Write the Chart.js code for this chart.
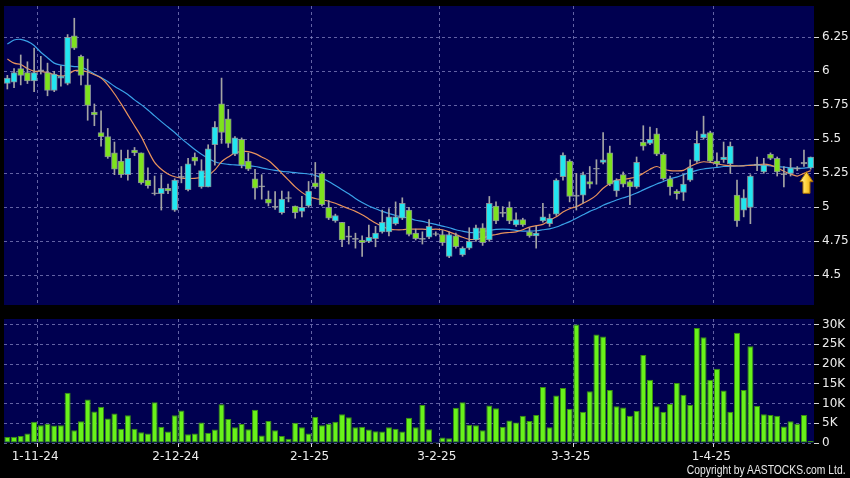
<!DOCTYPE html>
<html>
<head>
<meta charset="utf-8">
<title>Price chart</title>
<script src="https://cdn.jsdelivr.net/npm/chart.js@4.4.1/dist/chart.umd.min.js"></script>
<style>
  html, body { margin: 0; padding: 0; background: #000; }
  #wrap { position: relative; width: 850px; height: 478px; background: #000; overflow: hidden; }
  #price-box { position: absolute; left: 0; top: 0; width: 850px; height: 312px; }
  #vol-box { position: absolute; left: 0; top: 312px; width: 850px; height: 166px; }
  #copy {
    position: absolute; right: 4px; top: 463px;
    font: 12px "Liberation Sans", sans-serif;
    color: #e8e8e8; white-space: nowrap;
    transform: scaleX(0.86); transform-origin: right center;
  }
</style>
</head>
<body>
<div id="wrap">
  <div id="price-box"><canvas id="price-chart"></canvas></div>
  <div id="vol-box"><canvas id="vol-chart"></canvas></div>
  <div id="copy">Copyright by AASTOCKS.com Ltd.</div>
</div>
<script>
/* ── Data (one entry per trading day, 28-10-24 .. 25-4-25) ── */
const OPEN = [
  5.91, 5.92, 6.02, 5.99, 5.93, 6.00, 5.99, 5.86, 5.95, 5.91,
  6.26, 6.11, 5.90, 5.70, 5.55, 5.52, 5.40, 5.34, 5.24, 5.42,
  5.40, 5.20, 5.10, 5.10, 5.14, 4.98, 5.22, 5.13, 5.37, 5.15,
  5.15, 5.46, 5.76, 5.65, 5.39, 5.50, 5.34, 5.21, 5.15, 5.06,
  5.00, 4.96, 5.065, 5.01, 4.97, 5.01, 5.18, 5.25, 5.00, 4.90,
  4.89, 4.78, 4.765, 4.76, 4.75, 4.77, 4.82, 4.82, 4.88, 4.92,
  4.98, 4.81, 4.765, 4.78, 4.80, 4.80, 4.64, 4.79, 4.65, 4.70,
  4.76, 4.85, 4.76, 5.01, 4.955, 5.00, 4.87, 4.91, 4.82, 4.79,
  4.90, 4.88, 4.95, 5.225, 5.34, 5.08, 5.09, 5.19, 5.28, 5.33,
  5.40, 5.12, 5.24, 5.19, 5.15, 5.48, 5.47, 5.54, 5.39, 5.21,
  5.12, 5.11, 5.20, 5.34, 5.51, 5.55, 5.34, 5.35, 5.32, 5.09,
  4.98, 5.00, 5.31, 5.26, 5.39, 5.36, 5.24, 5.25, 5.29, 5.32,
  5.29,
];
const HIGH = [
  5.97, 6.02, 6.12, 6.07, 6.17, 6.11, 6.06, 6.00, 6.04, 6.27,
  6.39, 6.12, 6.09, 5.76, 5.71, 5.58, 5.48, 5.42, 5.42, 5.44,
  5.40, 5.29, 5.23, 5.24, 5.17, 5.21, 5.30, 5.36, 5.40, 5.35,
  5.46, 5.63, 5.95, 5.72, 5.52, 5.51, 5.40, 5.28, 5.24, 5.12,
  5.115, 5.12, 5.115, 5.01, 5.08, 5.19, 5.33, 5.26, 5.05, 4.95,
  4.89, 4.86, 4.81, 4.79, 4.87, 4.86, 4.98, 4.99, 5.04, 5.07,
  5.00, 4.84, 4.82, 4.91, 4.82, 4.83, 4.82, 4.81, 4.71, 4.85,
  4.87, 4.88, 5.08, 5.04, 5.005, 5.04, 4.96, 4.92, 4.85, 4.86,
  5.03, 4.95, 5.21, 5.40, 5.35, 5.25, 5.26, 5.30, 5.35, 5.55,
  5.45, 5.21, 5.26, 5.20, 5.37, 5.60, 5.59, 5.58, 5.40, 5.23,
  5.13, 5.24, 5.35, 5.56, 5.67, 5.56, 5.40, 5.48, 5.48, 5.20,
  5.13, 5.24, 5.37, 5.36, 5.40, 5.37, 5.30, 5.36, 5.30, 5.42,
  5.37,
];
const LOW = [
  5.87, 5.88, 5.90, 5.91, 5.85, 5.98, 5.82, 5.85, 5.89, 5.90,
  6.16, 5.90, 5.64, 5.60, 5.45, 5.36, 5.24, 5.22, 5.20, 5.38,
  5.17, 5.14, 5.09, 4.98, 5.10, 4.97, 5.18, 5.12, 5.31, 5.14,
  5.15, 5.31, 5.47, 5.44, 5.38, 5.29, 5.27, 5.06, 5.06, 5.01,
  4.985, 4.95, 5.04, 4.92, 4.93, 5.00, 5.14, 5.01, 4.91, 4.89,
  4.71, 4.73, 4.70, 4.64, 4.74, 4.71, 4.81, 4.79, 4.87, 4.91,
  4.79, 4.76, 4.73, 4.77, 4.79, 4.72, 4.63, 4.70, 4.64, 4.69,
  4.75, 4.72, 4.75, 4.88, 4.93, 4.88, 4.86, 4.86, 4.78, 4.70,
  4.89, 4.86, 4.94, 5.20, 5.04, 4.98, 5.03, 5.14, 5.17, 5.32,
  5.16, 5.08, 5.15, 5.02, 5.14, 5.42, 5.46, 5.38, 5.20, 5.09,
  5.06, 5.05, 5.19, 5.33, 5.50, 5.33, 5.30, 5.33, 5.25, 4.86,
  4.93, 4.88, 5.27, 5.25, 5.35, 5.23, 5.15, 5.23, 5.27, 5.30,
  5.28,
];
const CLOSE = [
  5.95, 5.99, 5.97, 5.93, 5.99, 6.01, 5.86, 5.98, 5.965, 6.25,
  6.17, 5.97, 5.75, 5.68, 5.52, 5.37, 5.28, 5.24, 5.36, 5.40,
  5.18, 5.16, 5.10, 5.14, 5.12, 5.20, 5.22, 5.32, 5.34, 5.27,
  5.43, 5.59, 5.55, 5.47, 5.51, 5.31, 5.28, 5.14, 5.15, 5.03,
  5.00, 5.06, 5.065, 4.96, 5.00, 5.12, 5.15, 5.02, 4.92, 4.94,
  4.76, 4.79, 4.765, 4.74, 4.78, 4.81, 4.89, 4.93, 4.93, 5.03,
  4.80, 4.77, 4.765, 4.86, 4.805, 4.74, 4.80, 4.71, 4.70, 4.75,
  4.85, 4.74, 5.03, 4.90, 4.955, 4.90, 4.91, 4.87, 4.79, 4.81,
  4.93, 4.92, 5.20, 5.385, 5.08, 5.09, 5.24, 5.17, 5.285, 5.35,
  5.17, 5.20, 5.17, 5.15, 5.33, 5.45, 5.50, 5.39, 5.21, 5.15,
  5.10, 5.17, 5.29, 5.47, 5.54, 5.34, 5.32, 5.37, 5.45, 4.90,
  5.07, 5.23, 5.31, 5.31, 5.36, 5.26, 5.24, 5.29, 5.28, 5.33,
  5.37,
];
const MA_SHORT = [
  6.09, 6.06, 6.05, 6.02, 6.00, 6.00, 5.99, 5.975, 5.965, 5.975,
  6.005, 6.005, 5.995, 5.975, 5.95, 5.90, 5.835, 5.76, 5.68, 5.60,
  5.52, 5.42, 5.33, 5.28, 5.245, 5.225, 5.215, 5.212, 5.213, 5.22,
  5.235, 5.275, 5.335, 5.37, 5.40, 5.41, 5.41, 5.395, 5.37, 5.345,
  5.30, 5.25, 5.20, 5.15, 5.11, 5.08, 5.065, 5.055, 5.045, 5.03,
  5.01, 4.99, 4.97, 4.945, 4.915, 4.885, 4.86, 4.84, 4.835, 4.835,
  4.84, 4.84, 4.84, 4.835, 4.84, 4.835, 4.82, 4.80, 4.78, 4.765,
  4.765, 4.775, 4.79, 4.80, 4.81, 4.815, 4.82, 4.835, 4.855, 4.865,
  4.875, 4.905, 4.93, 4.965, 4.99, 5.005, 5.03, 5.055, 5.09, 5.14,
  5.175, 5.20, 5.205, 5.213, 5.225, 5.25, 5.28, 5.30, 5.28, 5.27,
  5.268, 5.272, 5.30, 5.322, 5.335, 5.33, 5.32, 5.31, 5.306, 5.304,
  5.305, 5.309, 5.312, 5.318, 5.31, 5.29, 5.265, 5.245, 5.23, 5.25,
  5.27,
];
const MA_LONG = [
  6.20, 6.23, 6.235, 6.22, 6.19, 6.14, 6.10, 6.06, 6.045, 6.04,
  6.035, 6.03, 6.01, 5.98, 5.955, 5.925, 5.89, 5.86, 5.83, 5.79,
  5.755, 5.715, 5.672, 5.63, 5.59, 5.55, 5.505, 5.465, 5.425, 5.39,
  5.36, 5.335, 5.322, 5.316, 5.312, 5.308, 5.305, 5.30, 5.29, 5.28,
  5.272, 5.265, 5.26, 5.255, 5.25, 5.245, 5.235, 5.215, 5.19, 5.16,
  5.13, 5.10, 5.065, 5.035, 5.01, 4.99, 4.97, 4.955, 4.94, 4.93,
  4.92, 4.905, 4.897, 4.885, 4.875, 4.862, 4.85, 4.835, 4.825, 4.815,
  4.815, 4.822, 4.83, 4.838, 4.84, 4.838, 4.83, 4.825, 4.825, 4.828,
  4.835, 4.842, 4.855, 4.875, 4.895, 4.92, 4.945, 4.97, 4.99, 5.015,
  5.035, 5.054, 5.07, 5.085, 5.105, 5.128, 5.15, 5.171, 5.19, 5.21,
  5.222, 5.24, 5.258, 5.272, 5.282, 5.288, 5.294, 5.30, 5.302, 5.304,
  5.307, 5.31, 5.31, 5.308, 5.305, 5.30, 5.295, 5.29, 5.287, 5.288,
  5.293,
];
const VOLUME = [
  1500, 1600, 1800, 2400, 5400, 4500, 4900, 4400, 4500, 12700,
  3200, 5500, 11000, 8000, 9200, 6200, 7500, 3600, 7000, 3600,
  2700, 2400, 10300, 4100, 2900, 7000, 8200, 2200, 2400, 5200,
  2600, 3400, 9800, 6100, 4000, 4800, 3500, 8400, 1900, 5600,
  3200, 1800, 1100, 5100, 4000, 2400, 6600, 4500, 4900, 5400,
  7300, 6500, 4000, 4100, 3400, 3000, 2900, 4000, 3600, 2900,
  6400, 4000, 9600, 3500, 250, 1400, 1200, 8900, 10300, 4600,
  4500, 3200, 9500, 8800, 4100, 5700, 5200, 6900, 5600, 7100,
  14200, 4000, 12000, 13900, 8700, 30000, 7900, 13100, 27500, 27000,
  13400, 9300, 9000, 6900, 8100, 22300, 16000, 9300, 7900, 9900,
  15200, 12200, 9700, 29100, 26800, 16000, 18800, 13300, 7900, 27900,
  13400, 24500, 9400, 7300, 7100, 6900, 4200, 5500, 4900, 7100,
  500,
];

/* ── Axis labels ── */
const TICK_POS    = [4, 25, 45, 64, 84, 105];
const TICK_TEXT   = ['1-11-24', '2-12-24', '2-1-25', '3-2-25', '3-3-25', '1-4-25'];
const PRICE_TICKS = [4.5, 4.75, 5, 5.25, 5.5, 5.75, 6, 6.25];
const VOL_TICKS   = [0, 5000, 10000, 15000, 20000, 25000, 30000];

/* ── Constants ── */
const PRICE_MIN  = 4.282;
const PRICE_MAX  = 6.48;
const VOL_MAX    = 31400;
const ARROW_AT   = 119;
const ARROW_TIP  = 5.262;
const ARROW_BASE = 5.103;

const PLOT_BG     = '#000050';
const GRID_COLOR  = 'rgba(140,140,200,0.7)';
const TICK_COLOR  = '#d8d8d8';
const LABEL_COLOR = '#ececec';
const UP_COLOR    = '#22e6f0';
const DOWN_COLOR  = '#7ee21e';
const FLAT_COLOR  = '#a8a8a8';
const EDGE_COLOR  = 'rgba(150,160,160,0.85)';
const WICK_COLOR  = '#a4a4a4';
const MA_S_COLOR  = '#e8925c';
const MA_L_COLOR  = '#3aa2e8';
const VOL_FILL    = '#68f21a';
const VOL_EDGE    = '#3a8f12';
const AXIS_W      = 36;
const FONT        = { family: 'DejaVu Sans', size: 12 };

Chart.defaults.font.family = 'DejaVu Sans';
Chart.defaults.animation = false;

const LABELS = OPEN.map((_, i) => i);

/* ── Plugins ── */
const plotBg = {
  id: 'plotBg',
  beforeDraw(chart) {
    const { ctx, chartArea: a } = chart;
    ctx.save();
    ctx.fillStyle = PLOT_BG;
    ctx.fillRect(a.left, a.top, a.width, a.height);
    ctx.restore();
  },
};

const lastArrow = {
  id: 'lastArrow',
  afterDatasetsDraw(chart) {
    const { ctx, scales: { x, y } } = chart;
    const cx  = x.getPixelForValue(ARROW_AT) + 2.5;
    const top = y.getPixelForValue(ARROW_TIP);
    const bot = y.getPixelForValue(ARROW_BASE);
    const headH = 10, headW = 6.5, shaftW = 3.5;
    const g = ctx.createLinearGradient(cx - headW, 0, cx + headW, 0);
    g.addColorStop(0, '#fff2a0');
    g.addColorStop(0.5, '#ffd23a');
    g.addColorStop(1, '#e09a00');
    ctx.save();
    ctx.beginPath();
    ctx.moveTo(cx, top);
    ctx.lineTo(cx + headW, top + headH);
    ctx.lineTo(cx + shaftW, top + headH);
    ctx.lineTo(cx + shaftW, bot);
    ctx.lineTo(cx - shaftW, bot);
    ctx.lineTo(cx - shaftW, top + headH);
    ctx.lineTo(cx - headW, top + headH);
    ctx.closePath();
    ctx.fillStyle = g;
    ctx.fill();
    ctx.lineWidth = 1;
    ctx.strokeStyle = '#a86e00';
    ctx.stroke();
    ctx.restore();
  },
};

/* ── Shared axes ── */
function xAxis(showLabels) {
  return {
    type: 'category',
    offset: true,
    grid: {
      offset: true,
      color: ctx => TICK_POS.includes(ctx.index - 1) ? GRID_COLOR : 'transparent',
      tickColor: ctx => TICK_POS.includes(ctx.index - 1) ? TICK_COLOR : 'transparent',
      drawTicks: showLabels,
      tickLength: 4,
      tickBorderDash: [],
    },
    border: { display: false, dash: [3, 3] },
    ticks: {
      display: showLabels,
      autoSkip: false,
      minRotation: 0,
      maxRotation: 0,
      labelOffset: 1,
      padding: 3,
      color: LABEL_COLOR,
      font: FONT,
      callback: (v, i) => {
        const k = TICK_POS.indexOf(i);
        return k >= 0 ? TICK_TEXT[k] : '';
      },
    },
    afterFit: s => {
      s.height = showLabels ? 35 : 0;
      s.paddingLeft = 0;
      s.paddingRight = 0;
    },
  };
}

function yAxis(min, max, tickValues, fmt) {
  return {
    position: 'right',
    min, max,
    afterBuildTicks: s => { s.ticks = tickValues.map(v => ({ value: v })); },
    afterFit: s => {
      s.width = AXIS_W;
      s.paddingTop = 0;
      s.paddingBottom = 0;
    },
    grid: { color: GRID_COLOR, tickColor: TICK_COLOR, tickLength: 5, tickBorderDash: [] },
    border: { display: false, dash: [3, 3] },
    ticks: { color: LABEL_COLOR, padding: 3, font: FONT, callback: fmt },
  };
}

/* ── Price panel ── */
function drawPrice() {
  const bodyColor = LABELS.map(i => {
    const d = CLOSE[i] - OPEN[i];
    if (Math.abs(d) < 0.012) return FLAT_COLOR;
    return d > 0 ? UP_COLOR : DOWN_COLOR;
  });

  new Chart(document.getElementById('price-chart'), {
    type: 'bar',
    data: {
      labels: LABELS,
      datasets: [
        {
          type: 'line', data: MA_LONG, borderColor: MA_L_COLOR, borderWidth: 1.2,
          pointRadius: 0, tension: 0.3, order: 4,
        },
        {
          type: 'line', data: MA_SHORT, borderColor: MA_S_COLOR, borderWidth: 1.2,
          pointRadius: 0, tension: 0.3, order: 3,
        },
        {
          data: LABELS.map(i => [LOW[i], HIGH[i]]),
          backgroundColor: WICK_COLOR,
          barThickness: 1,
          grouped: false,
          order: 2,
        },
        {
          data: LABELS.map(i => [OPEN[i], CLOSE[i]]),
          backgroundColor: bodyColor,
          borderColor: EDGE_COLOR,
          borderWidth: 1,
          borderSkipped: false,
          barThickness: 6,
          minBarLength: 1,
          grouped: false,
          order: 1,
        },
      ],
    },
    options: {
      responsive: true,
      maintainAspectRatio: false,
      layout: { padding: { left: 4, right: 0, top: 6, bottom: 7 } },
      plugins: { legend: { display: false }, tooltip: { enabled: false } },
      scales: {
        x: xAxis(false),
        y: yAxis(PRICE_MIN, PRICE_MAX, PRICE_TICKS, v => String(v)),
      },
    },
    plugins: [plotBg, lastArrow],
  });
}

/* ── Volume panel ── */
function drawVolume() {
  new Chart(document.getElementById('vol-chart'), {
    type: 'bar',
    data: {
      labels: LABELS,
      datasets: [{
        data: VOLUME,
        backgroundColor: VOL_FILL,
        borderColor: VOL_EDGE,
        borderWidth: 1,
        borderSkipped: false,
        barPercentage: 0.9,
        categoryPercentage: 1,
      }],
    },
    options: {
      responsive: true,
      maintainAspectRatio: false,
      layout: { padding: { left: 4, right: 0, top: 7, bottom: 0 } },
      plugins: { legend: { display: false }, tooltip: { enabled: false } },
      scales: {
        x: xAxis(true),
        y: yAxis(0, VOL_MAX, VOL_TICKS, v => v === 0 ? '0' : (v / 1000) + 'K'),
      },
    },
    plugins: [plotBg],
  });
}

drawPrice();
drawVolume();
</script>
</body>
</html>
